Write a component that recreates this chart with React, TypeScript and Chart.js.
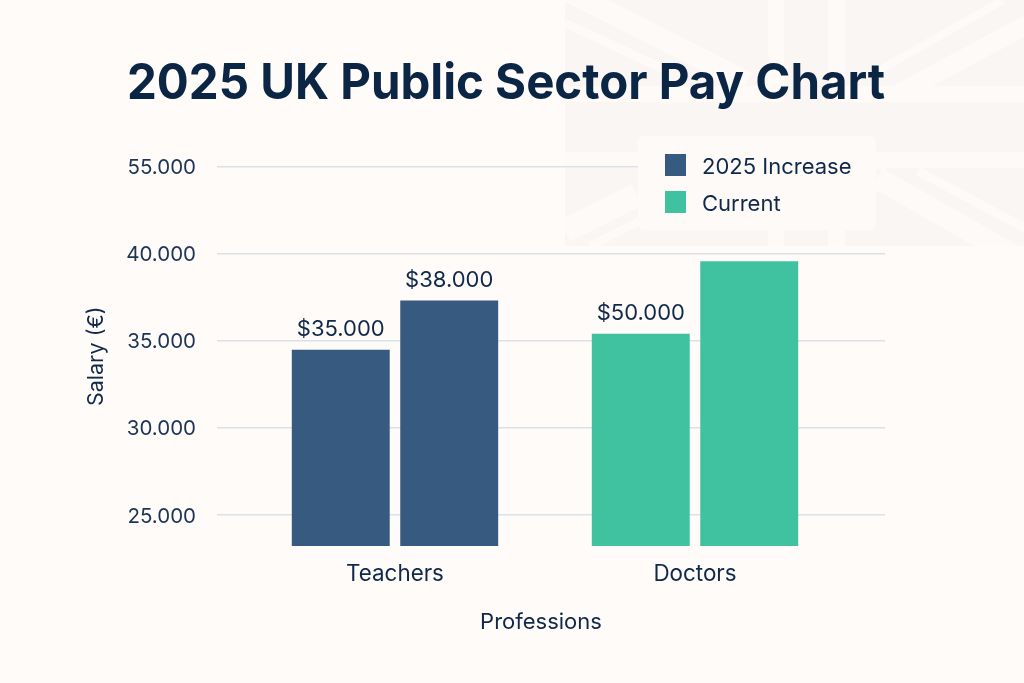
// App.tsx
import React, { useEffect, useRef } from 'react';
import { Chart, registerables } from 'chart.js';

Chart.register(...registerables);

const categories = ['Teachers', 'Doctors'];
const seriesNames = ['2025 Increase', 'Current'];
const firstBars = [34480, 35400];
const secondBars = [37300, 39560];
const firstBarLabels = ['$35.000', '$50.000'];
const secondBarLabels = ['$38.000', ''];
const barColors = ['#375a80', '#40c1a0'];
const yTickValues = [25000, 30000, 35000, 40000, 45000];
const yTickLabels = ['25.000', '30.000', '35.000', '40.000', '55.000'];

const INK = '#10294a';
const FONT = 'Inter';
const FLAG_DARK = '#f9f6f3';
const FLAG_LIGHT = '#fdfaf7';

// faint diagonals of the flag: x1, y1, x2, y2, width
const flagStripes = [
  [565, -10, 747, 82, 21],
  [565, 23, 670, 72, 9],
  [890, 98, 1030, 23, 19],
  [880, 70, 1003, 0, 8],
  [565, 231, 637, 195, 24],
  [590, 246, 640, 221, 8],
  [877, 178, 1030, 265, 22],
  [918, 171, 1030, 231, 9],
];

const backdrop = {
  id: 'backdrop',
  beforeDraw(chart: any) {
    const ctx = chart.ctx;
    ctx.save();
    ctx.fillStyle = '#fefbf8';
    ctx.fillRect(0, 0, chart.width, chart.height);

    const x0 = 565, x1 = 1024, y1 = 246;
    ctx.beginPath();
    ctx.rect(x0, 0, x1 - x0, y1);
    ctx.clip();
    ctx.fillStyle = FLAG_DARK;
    ctx.fillRect(x0, 0, x1 - x0, y1);
    ctx.strokeStyle = FLAG_LIGHT;
    flagStripes.forEach(s => {
      ctx.lineWidth = s[4];
      ctx.beginPath();
      ctx.moveTo(s[0], s[1]);
      ctx.lineTo(s[2], s[3]);
      ctx.stroke();
    });
    ctx.fillStyle = FLAG_LIGHT;
    ctx.fillRect(768, 0, 77, y1);
    ctx.fillRect(x0, 86, x1 - x0, 82);
    ctx.fillStyle = FLAG_DARK;
    ctx.fillRect(784, 0, 44, y1);
    ctx.fillRect(x0, 102, x1 - x0, 50);
    ctx.restore();
  },
  afterLayout(chart: any) {
    chart.titleBlock.left = 127;
  },
};

const valueLabels = {
  id: 'valueLabels',
  afterDatasetsDraw(chart: any) {
    const ctx = chart.ctx;
    ctx.save();
    ctx.fillStyle = INK;
    ctx.font = `22px ${FONT}`;
    ctx.textAlign = 'center';
    ctx.textBaseline = 'bottom';
    [firstBarLabels, secondBarLabels].forEach((texts, d) => {
      chart.getDatasetMeta(d).data.forEach((bar: any, i: number) => {
        if (texts[i]) ctx.fillText(texts[i], bar.x, bar.y - 9);
      });
    });

    // axis title sits left of the plot centre in the original
    ctx.textBaseline = 'middle';
    ctx.fillText('Professions', 541, 622);

    // legend panel, it also hides the end of the top grid line
    ctx.fillStyle = FLAG_LIGHT;
    ctx.fillRect(876, 165, 10, 4);
    ctx.beginPath();
    ctx.roundRect(638, 136, 238, 94, 6);
    ctx.fill();
    ctx.textAlign = 'left';
    seriesNames.forEach((name, i) => {
      const y = 154 + i * 37;
      ctx.fillStyle = barColors[i];
      ctx.fillRect(665, y, 21, 22);
      ctx.fillStyle = INK;
      ctx.fillText(name, 702, y + 13);
    });
    ctx.restore();
  },
};

const App: React.FC = () => {
  const chartRef = useRef<HTMLCanvasElement>(null);

  useEffect(() => {
    document.body.style.margin = '0';
    if (!chartRef.current) return;
    const chart = new Chart(chartRef.current, {
      type: 'bar',
      data: {
        datasets: [
          {
            label: seriesNames[0],
            data: firstBars.map((y, x) => ({ x, y })),
            backgroundColor: barColors,
          },
          {
            label: seriesNames[1],
            data: secondBars.map((y, x) => ({ x, y })),
            backgroundColor: barColors,
          },
        ],
      } as any,
      options: {
        responsive: false,
        animation: false,
        layout: { padding: { left: 84, right: 139, top: 0, bottom: 50 } },
        datasets: { bar: { categoryPercentage: 0.723, barPercentage: 0.903 } },
        plugins: {
          legend: { display: false },
          tooltip: { enabled: false },
          title: {
            display: true,
            text: '2025 UK Public Sector Pay Chart',
            align: 'start',
            color: '#0b2545',
            font: { family: FONT, size: 49.5, weight: 'bold', lineHeight: 1.2 },
            padding: { top: 54, bottom: 53 },
          },
        },
        scales: {
          x: {
            type: 'linear',
            bounds: 'data',
            offset: false,
            min: -0.5933,
            max: 1.6333,
            grid: { display: false },
            border: { display: false },
            afterBuildTicks(scale: any) {
              scale.ticks = categories.map((_, value) => ({ value }));
            },
            afterFit(scale: any) {
              scale.height = 87;
            },
            ticks: {
              padding: 7,
              color: INK,
              font: { family: FONT, size: 22.4 },
              callback: (value: any) => categories[value] ?? '',
            },
          },
          y: {
            type: 'linear',
            bounds: 'data',
            min: 23220,
            max: 45000,
            grid: { color: '#dbe1e7', lineWidth: 1.5, drawTicks: false },
            border: { display: false },
            afterBuildTicks(scale: any) {
              scale.ticks = yTickValues.map(value => ({ value }));
            },
            afterFit(scale: any) {
              scale.width = 133;
            },
            ticks: {
              padding: 21,
              labelOffset: 1.5,
              color: '#1c3557',
              font: { family: FONT, size: 20.5 },
              callback: (_: any, index: number) => yTickLabels[index],
            },
            title: {
              display: true,
              text: 'Salary (€)',
              color: INK,
              padding: 0,
              font: { family: FONT, size: 21.5 },
            },
          },
        },
      } as any,
      plugins: [backdrop, valueLabels],
    });
    return () => chart.destroy();
  }, []);

  return <canvas ref={chartRef} width={1024} height={683} style={{ display: 'block' }}></canvas>;
};

export default App;
